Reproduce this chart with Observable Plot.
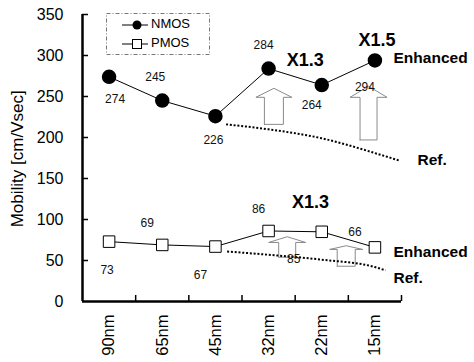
<!DOCTYPE html>
<html>
<head>
<meta charset="utf-8">
<script src="https://cdn.jsdelivr.net/npm/d3@7"></script>
<script src="https://cdn.jsdelivr.net/npm/@observablehq/plot@0.6"></script>
<style>
  html, body { margin: 0; padding: 0; background: #fff; }
  #wrap { position: relative; width: 474px; height: 362px; font-family: Arial, "Liberation Sans", sans-serif; }
  #legend { position: absolute; left: 106px; top: 13px; }
</style>
</head>
<body>
<div id="wrap"></div>
<script>
// ---- data ----
const categories = ["90nm", "65nm", "45nm", "32nm", "22nm", "15nm"];
const nmos = [274, 245, 226, 284, 264, 294];
const pmos = [73, 69, 67, 86, 85, 66];
const yTicks = [0, 50, 100, 150, 200, 250, 300, 350];
const yTitle = "Mobility [cm/Vsec]";

// reference (trend) curves: position along category axis, value
const nmosRefX = [2.2, 3, 4, 5, 5.45];
const nmosRefY = [216, 210, 199, 181, 172];
const pmosRefX = [2.22, 3, 4, 5, 5.2];
const pmosRefY = [61, 57, 51, 42, 38];

// hollow enhancement arrows
const arrowX    = [3.10, 4.88, 3.35, 4.46];
const arrowBase = [216, 197, 54, 43];
const arrowNeck = [249, 249, 72, 63.5];
const arrowTip  = [260, 262.5, 79, 68];

// annotations
const annText = ["X1.3", "X1.5", "Enhanced", "Ref.", "X1.3", "Enhanced", "Ref."];
const annX    = [3.69, 5.04, 5.35, 5.80, 3.79, 5.35, 5.35];
const annY    = [294, 319, 297, 172, 121, 60, 29];

// ---- layout/style ----
const W = 474, H = 362;
const mL = 82, mR = 73, mT = 14, mB = 61;
const plotW = W - mL - mR, plotH = H - mT - mB;
const pxPerIdx = plotW / 6;
const shaftHalf = [9.5, 8.5, 8.5, 9].map(p => p / pxPerIdx);
const headHalf  = [18, 18.5, 18.5, 16.5].map(p => p / pxPerIdx);
const nmosDx = [6, -7, -2, -5, -10, -10], nmosDy = [22, -23, 24, -23, 20, 27];
const pmosDx = [-2, -15, -15, -10, -28, -20], pmosDy = [29, -22, 29, -22, 27, -15];
const annAnchor = ["middle", "middle", "start", "start", "middle", "start", "start"];
const annSize = [18, 18, 15.5, 15.5, 18, 15.5, 15.5];

const idx = categories.map((_, i) => i);
const nData = idx.map(i => ({x: i, y: nmos[i], dx: nmosDx[i], dy: nmosDy[i], t: String(nmos[i])}));
const pData = idx.map(i => ({x: i, y: pmos[i], dx: pmosDx[i], dy: pmosDy[i], t: String(pmos[i])}));
const nRef = nmosRefX.map((x, i) => ({x, y: nmosRefY[i]}));
const pRef = pmosRefX.map((x, i) => ({x, y: pmosRefY[i]}));
const arrowPts = [];
arrowX.forEach((x, i) => {
  const s = shaftHalf[i], h = headHalf[i];
  const pts = [[x - s, arrowBase[i]], [x - s, arrowNeck[i]], [x - h, arrowNeck[i]], [x, arrowTip[i]],
               [x + h, arrowNeck[i]], [x + s, arrowNeck[i]], [x + s, arrowBase[i]], [x - s, arrowBase[i]]];
  pts.forEach(([px, py]) => arrowPts.push({id: i, x: px, y: py}));
});
const ann = annText.map((t, i) => ({t, x: annX[i], y: annY[i], a: annAnchor[i], s: annSize[i]}));
const boundaries = [0.5, 1.5, 2.5, 3.5, 4.5, 5.5];

const textMarks = ann.map(a =>
  Plot.text([a], {x: "x", y: "y", text: "t", textAnchor: a.a, fontSize: a.s,
    fontWeight: "bold", fill: "black"}));
const labelMarks = [...nData, ...pData].map(d =>
  Plot.text([d], {x: "x", y: "y", text: "t", dx: d.dx, dy: d.dy, fontSize: 12, fill: "#111"}));

const dotted = {stroke: "black", strokeWidth: 2, strokeDasharray: "2,1.8", strokeLinecap: "butt", curve: "monotone-x"};

const chart = Plot.plot({
  width: W, height: H,
  marginLeft: mL, marginRight: mR, marginTop: mT, marginBottom: mB,
  style: {fontFamily: 'Arial, "Liberation Sans", sans-serif', background: "white", overflow: "visible"},
  x: {type: "linear", domain: [-0.5, 5.5]},
  y: {domain: [0, 350]},
  marks: [
    Plot.axisY({ticks: yTicks, tickSize: 0, tickPadding: 19, fontSize: 16, label: null}),
    Plot.text([{t: yTitle, y: 174}], {y: "y", text: "t", frameAnchor: "left", dx: -65, rotate: -90,
      fontSize: 17, textAnchor: "middle"}),
    Plot.axisX({ticks: idx, tickFormat: i => categories[i], tickSize: 0, tickPadding: 13,
      tickRotate: -90, fontSize: 16.5, label: null}),
    Plot.tickY(yTicks.slice(1), {y: d => d, insetRight: plotW - 6, strokeWidth: 1.5, stroke: "black"}),
    Plot.tickX(boundaries, {x: d => d, insetTop: plotH - 6, strokeWidth: 1.5, stroke: "black"}),
    Plot.line(arrowPts, {x: "x", y: "y", z: "id", stroke: "#8a8a8a", fill: "white", strokeWidth: 1, curve: "linear"}),
    Plot.line(nRef, {x: "x", y: "y", ...dotted}),
    Plot.line(pRef, {x: "x", y: "y", ...dotted}),
    Plot.line(nData, {x: "x", y: "y", stroke: "black", strokeWidth: 1}),
    Plot.line(pData, {x: "x", y: "y", stroke: "black", strokeWidth: 1}),
    Plot.dot(nData, {x: "x", y: "y", r: 6.5, fill: "black", stroke: "black"}),
    Plot.dot(pData, {x: "x", y: "y", r: 6.5, symbol: "square", fill: "white", stroke: "black", strokeWidth: 1}),
    ...labelMarks,
    ...textMarks,
    Plot.ruleY([0], {stroke: "black", strokeWidth: 2.5}),
    Plot.ruleX([-0.5], {stroke: "black", strokeWidth: 2.5})
  ]
});
document.getElementById("wrap").appendChild(chart);

// legend
const lg = d3.select("#wrap").append("svg").attr("id", "legend").attr("width", 105).attr("height", 43);
lg.append("rect").attr("x", 0.5).attr("y", 0.5).attr("width", 103).attr("height", 41)
  .attr("fill", "white").attr("stroke", "#777").attr("stroke-dasharray", "4,2,1,2");
const items = [{name: "NMOS", y: 12, sym: "circle"}, {name: "PMOS", y: 31, sym: "square"}];
items.forEach(it => {
  lg.append("line").attr("x1", 16).attr("x2", 42).attr("y1", it.y).attr("y2", it.y).attr("stroke", "black");
  if (it.sym === "circle") lg.append("circle").attr("cx", 31).attr("cy", it.y).attr("r", 4.5).attr("fill", "black");
  else lg.append("rect").attr("x", 26.5).attr("y", it.y - 4.5).attr("width", 9).attr("height", 9)
    .attr("fill", "white").attr("stroke", "black");
  lg.append("text").attr("x", 45).attr("y", it.y).attr("dominant-baseline", "middle")
    .attr("font-size", 13).attr("font-family", 'Arial, "Liberation Sans", sans-serif').text(it.name);
});
</script>
</body>
</html>
